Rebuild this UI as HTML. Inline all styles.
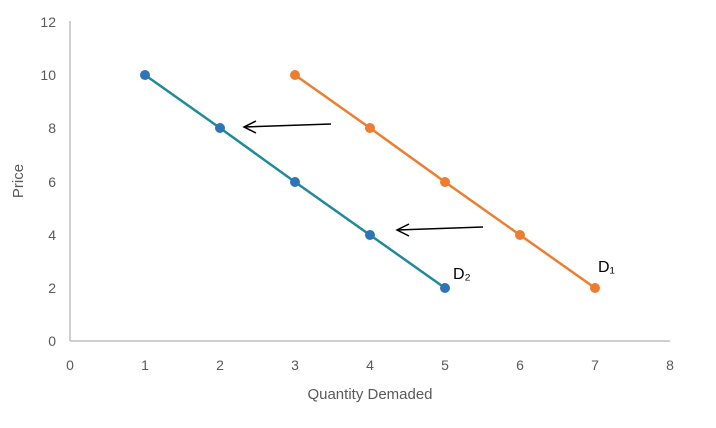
<!DOCTYPE html>
<html><head><meta charset="utf-8"><style>body{margin:0;background:#fff}svg{display:block;font-family:"Liberation Sans",sans-serif}</style></head><body>
<svg width="716" height="428" viewBox="0 0 716 428">
<g stroke="#bfbfbf" stroke-width="1.5" fill="none"><line x1="70" y1="21" x2="70" y2="341"/><line x1="70" y1="341" x2="670" y2="341"/></g>
<g font-size="14" fill="#595959" text-anchor="end">
<text x="56" y="346">0</text><text x="56" y="293">2</text><text x="56" y="240">4</text><text x="56" y="187">6</text><text x="56" y="133">8</text><text x="56" y="80">10</text><text x="56" y="27">12</text></g>
<g font-size="14" fill="#595959" text-anchor="middle">
<text x="70" y="370">0</text><text x="145" y="370">1</text><text x="220" y="370">2</text><text x="295" y="370">3</text><text x="370" y="370">4</text><text x="445" y="370">5</text><text x="520" y="370">6</text><text x="595" y="370">7</text><text x="670" y="370">8</text>
<text x="370" y="399" font-size="15">Quantity Demaded</text>
<text transform="translate(23,181) rotate(-90)" font-size="15">Price</text></g>
<polyline points="145,75 220,128 295,182 370,235 445,288" stroke="#1f8a9a" stroke-width="2.5" fill="none"/>
<polyline points="295,75 370,128 445,182 520,235 595,288" stroke="#ed7d31" stroke-width="2.5" fill="none"/>
<g fill="#2e75b6"><circle cx="145" cy="75" r="5"/><circle cx="220" cy="128" r="5"/><circle cx="295" cy="182" r="5"/><circle cx="370" cy="235" r="5"/><circle cx="445" cy="288" r="5"/></g>
<g fill="#ed7d31"><circle cx="295" cy="75" r="5"/><circle cx="370" cy="128" r="5"/><circle cx="445" cy="182" r="5"/><circle cx="520" cy="235" r="5"/><circle cx="595" cy="288" r="5"/></g>
<g stroke="#000" stroke-width="1.5" fill="none">
<line x1="331" y1="124" x2="244" y2="127"/><polyline points="256,121 244,127 256,133"/>
<line x1="483" y1="227" x2="397" y2="230"/><polyline points="409,224 397,230 409,236"/></g>
<text x="453" y="279" font-size="16" fill="#000">D₂</text>
<text x="598" y="272" font-size="16" fill="#000">D₁</text>
</svg></body></html>
